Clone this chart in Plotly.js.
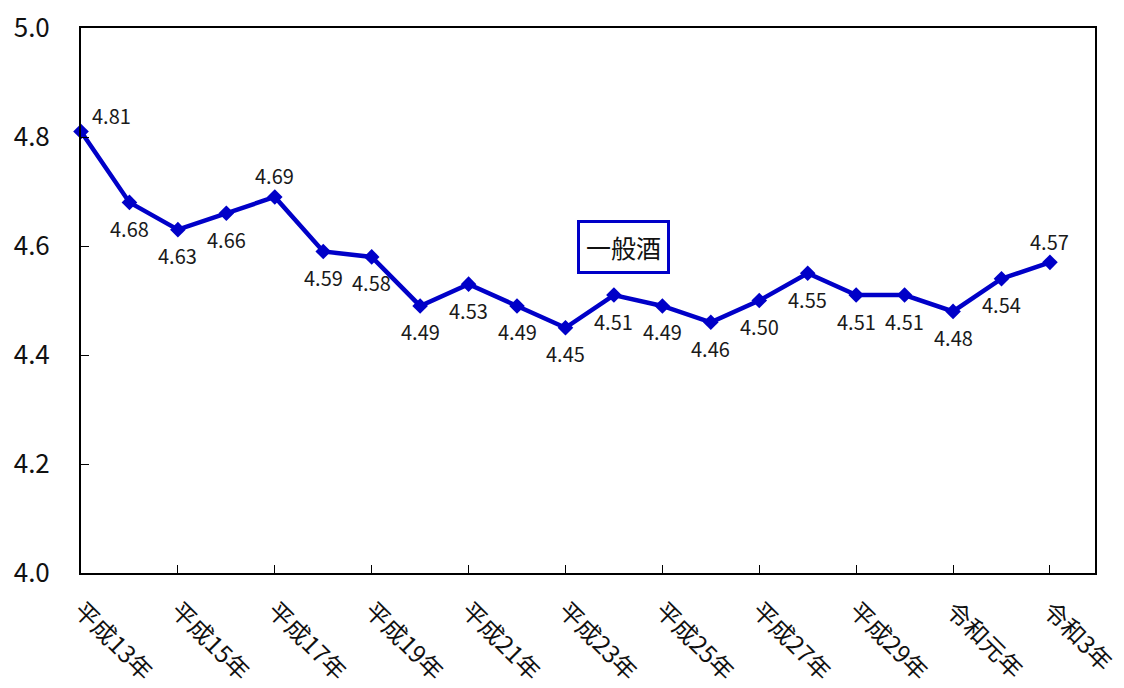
<!DOCTYPE html>
<html>
<head>
<meta charset="utf-8">
<script src="https://cdn.plot.ly/plotly-3.0.1.min.js"></script>
<style>html,body{margin:0;padding:0;background:#fff;}#chart{width:1124px;height:688px;}</style>
</head>
<body>
<div id="chart"></div>
<script>
const years = ["平成13年","平成14年","平成15年","平成16年","平成17年","平成18年","平成19年","平成20年","平成21年","平成22年","平成23年","平成24年","平成25年","平成26年","平成27年","平成28年","平成29年","平成30年","令和元年","令和2年","令和3年"];
const values = [4.81,4.68,4.63,4.66,4.69,4.59,4.58,4.49,4.53,4.49,4.45,4.51,4.49,4.46,4.50,4.55,4.51,4.51,4.48,4.54,4.57];
const labelPos = ["tr","b","b","b","t","b","b","b","b","b","b","b","b","b","b","b","b","b","b","b","t"];
const seriesName = "一般酒";

const idx = years.map((_, i) => i);
const tickIdx = idx.filter(i => i % 2 === 0);
const font = "Noto Sans CJK JP, Noto Sans, sans-serif";
const blue = "#0000C8";

const annotations = values.map((v, i) => {
  const p = labelPos[i];
  return {
    x: i, y: v, xref: "x", yref: "y", text: v.toFixed(2), showarrow: false,
    font: {family: font, size: 20, color: "#1a1a1a"},
    xshift: p === "tr" ? 30 : 0,
    yshift: p === "b" ? -26 : (p === "tr" ? 16 : 21)
  };
});
annotations.push({
  x: 0.535, y: 0.598, xref: "paper", yref: "paper", text: seriesName, showarrow: false,
  font: {family: font, size: 25, color: "#111"},
  bordercolor: blue, borderwidth: 3, borderpad: 6, bgcolor: "#fff"
});

Plotly.newPlot("chart", [{
  x: idx, y: values, type: "scatter", mode: "lines+markers", name: seriesName,
  line: {color: blue, width: 4.5},
  marker: {symbol: "diamond", size: 12, color: blue},
  cliponaxis: false, hoverinfo: "skip"
}], {
  width: 1124, height: 688,
  margin: {l: 81, r: 29, t: 28, b: 115},
  paper_bgcolor: "#fff", plot_bgcolor: "#fff",
  showlegend: false,
  xaxis: {
    range: [0, 20.93], tickvals: tickIdx, ticktext: tickIdx.map(i => years[i]),
    tickangle: 45, ticks: "inside", ticklen: 8, tickcolor: "#000", tickwidth: 1,
    ticklabelstandoff: 12,
    showline: true, linecolor: "#000", linewidth: 2, mirror: true,
    showgrid: false, zeroline: false,
    tickfont: {family: font, size: 24, color: "#111"}
  },
  yaxis: {
    range: [4.0, 5.0], dtick: 0.2, tickformat: ".1f",
    ticks: "inside", ticklen: 8, tickcolor: "#000", tickwidth: 1,
    ticklabelstandoff: 24,
    showline: true, linecolor: "#000", linewidth: 2, mirror: true,
    showgrid: false, zeroline: false,
    tickfont: {family: font, size: 26, color: "#111"}
  },
  annotations: annotations
}, {staticPlot: true});
</script>
</body>
</html>
